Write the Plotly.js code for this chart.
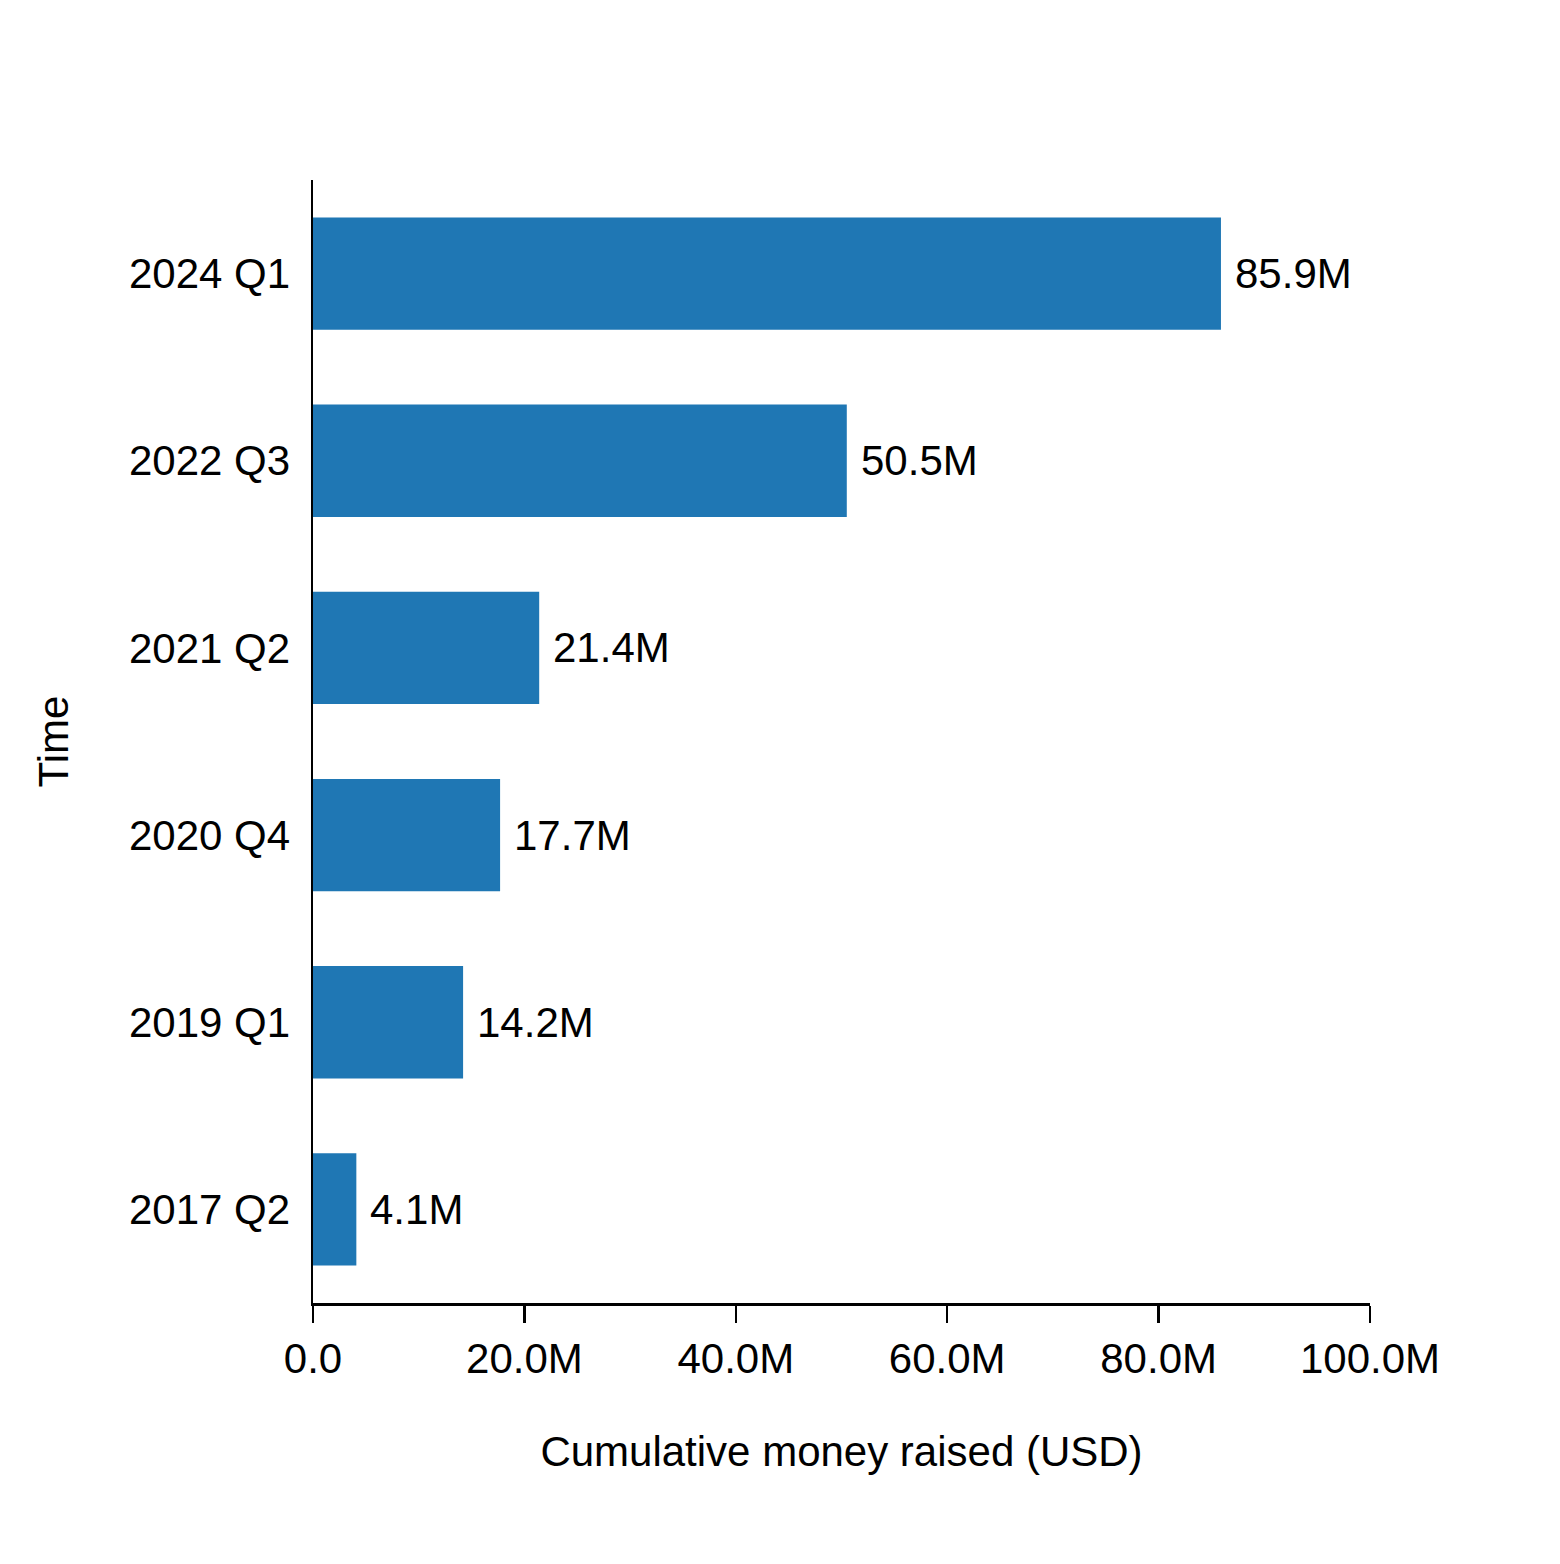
<!DOCTYPE html>
<html>
<head>
<meta charset="utf-8">
<script src="https://cdn.plot.ly/plotly-3.0.1.min.js"></script>
<style>
  body { margin: 0; background: #fff; }
  #chart { width: 1560px; height: 1564px; }
</style>
</head>
<body>
<div id="chart"></div>
<script>
// quarters, oldest first (bottom of the chart)
const quarters = ["2017 Q2", "2019 Q1", "2020 Q4", "2021 Q2", "2022 Q3", "2024 Q1"];
// cumulative money raised, millions of USD
const raised = [4.1, 14.2, 17.7, 21.4, 50.5, 85.9];
const xTickVals = [0, 20, 40, 60, 80, 100];
const xTickText = ["0.0", "20.0M", "40.0M", "60.0M", "80.0M", "100.0M"];

const FONT = "Liberation Sans, Arial, sans-serif";

let bars = {
  type: "bar",
  orientation: "h",
  y: quarters,
  x: raised,
  width: 0.6,
  marker: { color: "#1f77b4" },
  hoverinfo: "x+y"
};

// value labels just right of each bar end
let labels = [];
for (let i = 0; i < quarters.length; i++) {
  labels.push({
    x: raised[i], y: quarters[i],
    xref: "x", yref: "y",
    text: raised[i].toFixed(1) + "M",
    showarrow: false,
    xanchor: "left",
    xshift: 12,
    font: { family: FONT, size: 42, color: "#000" }
  });
}

let layout = {
  width: 1560, height: 1564,
  margin: { l: 313, r: 190, t: 180, b: 261 },
  paper_bgcolor: "#fff",
  plot_bgcolor: "#fff",
  showlegend: false,
  font: { family: FONT, size: 42, color: "#000" },
  annotations: labels,
  xaxis: {
    range: [0, 100],
    tickvals: xTickVals,
    ticktext: xTickText,
    ticks: "outside",
    ticklen: 17,
    tickwidth: 2.5,
    tickcolor: "#000",
    showline: true,
    linecolor: "#000",
    linewidth: 2.5,
    showgrid: false,
    zeroline: false,
    tickfont: { family: FONT, size: 42, color: "#000" },
    title: { text: "Cumulative money raised (USD)", standoff: 56,
             font: { family: FONT, size: 42, color: "#000" } }
  },
  yaxis: {
    type: "category",
    range: [-0.5, 5.5],
    ticks: "",
    showline: true,
    linecolor: "#000",
    linewidth: 2.5,
    showgrid: false,
    zeroline: false,
    ticklabelstandoff: 12,
    tickfont: { family: FONT, size: 42, color: "#000" },
    title: { text: "Time", standoff: 48,
             font: { family: FONT, size: 42, color: "#000" } }
  }
};

Plotly.newPlot("chart", [bars], layout, { displayModeBar: false, staticPlot: true });
</script>
</body>
</html>
